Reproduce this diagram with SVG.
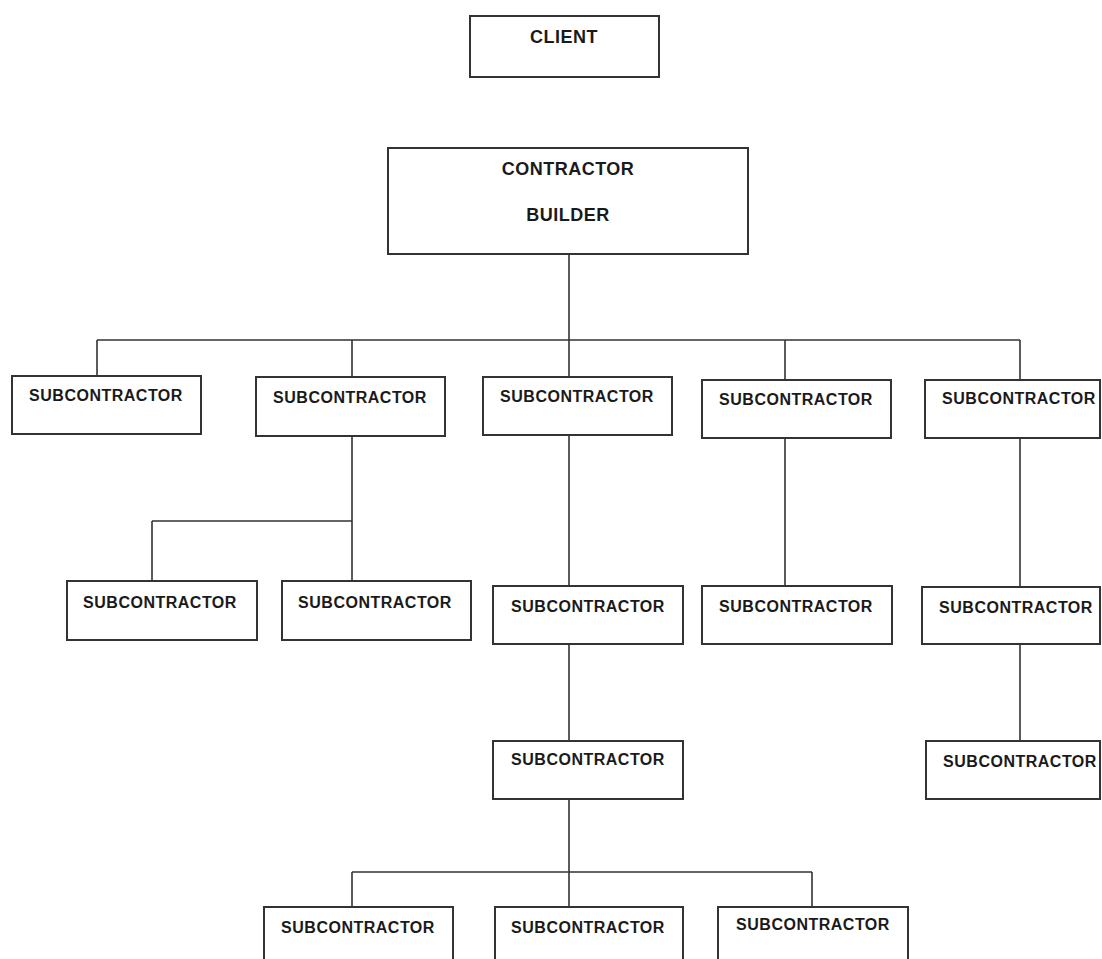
<svg xmlns="http://www.w3.org/2000/svg" width="1102" height="959" viewBox="0 0 1102 959">
<style>
.box{fill:#fff;stroke:#333;stroke-width:2}
.ln{fill:none;stroke:#333;stroke-width:1.6}
.t{font-family:"Liberation Sans",Arial,sans-serif;font-weight:bold;font-size:16px;letter-spacing:0.5px;fill:#1a1a1a;text-anchor:middle}
.tb{font-size:18px}
</style>
<rect width="1102" height="959" fill="#fff"/>
<g id="connectors">
<path class="ln" d="M569,254V340M97,340H1020M97,340V376M352,340V377M569,340V377M785,340V380M1020,340V380"/>
<path class="ln" d="M352,436V521M152,521H352M152,521V581M352,521V581"/>
<path class="ln" d="M569,435V586M569,644V741M569,799V872M352,872H812M352,872V907M569,872V907M812,872V907"/>
<path class="ln" d="M785,438V586"/>
<path class="ln" d="M1020,438V587M1020,644V741"/>
</g>
<g id="client"><rect class="box" x="470" y="16" width="189" height="61"/><text class="t tb" x="564" y="43">CLIENT</text></g>
<g id="contractor"><rect class="box" x="388" y="148" width="360" height="106"/><text class="t tb" x="568" y="175">CONTRACTOR</text><text class="t tb" x="568" y="221">BUILDER</text></g>
<g id="sub1"><rect class="box" x="12" y="376" width="189" height="58"/><text class="t" x="106" y="401">SUBCONTRACTOR</text></g>
<g id="sub2"><rect class="box" x="256" y="377" width="189" height="59"/><text class="t" x="350" y="403">SUBCONTRACTOR</text></g>
<g id="sub3"><rect class="box" x="483" y="377" width="189" height="58"/><text class="t" x="577" y="402">SUBCONTRACTOR</text></g>
<g id="sub4"><rect class="box" x="702" y="380" width="189" height="58"/><text class="t" x="796" y="405">SUBCONTRACTOR</text></g>
<g id="sub5"><rect class="box" x="925" y="380" width="175" height="58"/><text class="t" x="1019" y="404">SUBCONTRACTOR</text></g>
<g id="sub2a"><rect class="box" x="67" y="581" width="190" height="59"/><text class="t" x="160" y="608">SUBCONTRACTOR</text></g>
<g id="sub2b"><rect class="box" x="282" y="581" width="189" height="59"/><text class="t" x="375" y="608">SUBCONTRACTOR</text></g>
<g id="sub3a"><rect class="box" x="493" y="586" width="190" height="58"/><text class="t" x="588" y="612">SUBCONTRACTOR</text></g>
<g id="sub4a"><rect class="box" x="702" y="586" width="190" height="58"/><text class="t" x="796" y="612">SUBCONTRACTOR</text></g>
<g id="sub5a"><rect class="box" x="922" y="587" width="178" height="57"/><text class="t" x="1016" y="613">SUBCONTRACTOR</text></g>
<g id="sub3b"><rect class="box" x="493" y="741" width="190" height="58"/><text class="t" x="588" y="765">SUBCONTRACTOR</text></g>
<g id="sub5b"><rect class="box" x="926" y="741" width="174" height="58"/><text class="t" x="1020" y="767">SUBCONTRACTOR</text></g>
<g id="sub3c1"><rect class="box" x="264" y="907" width="189" height="70"/><text class="t" x="358" y="933">SUBCONTRACTOR</text></g>
<g id="sub3c2"><rect class="box" x="495" y="907" width="188" height="70"/><text class="t" x="588" y="933">SUBCONTRACTOR</text></g>
<g id="sub3c3"><rect class="box" x="718" y="907" width="190" height="70"/><text class="t" x="813" y="930">SUBCONTRACTOR</text></g>
</svg>
